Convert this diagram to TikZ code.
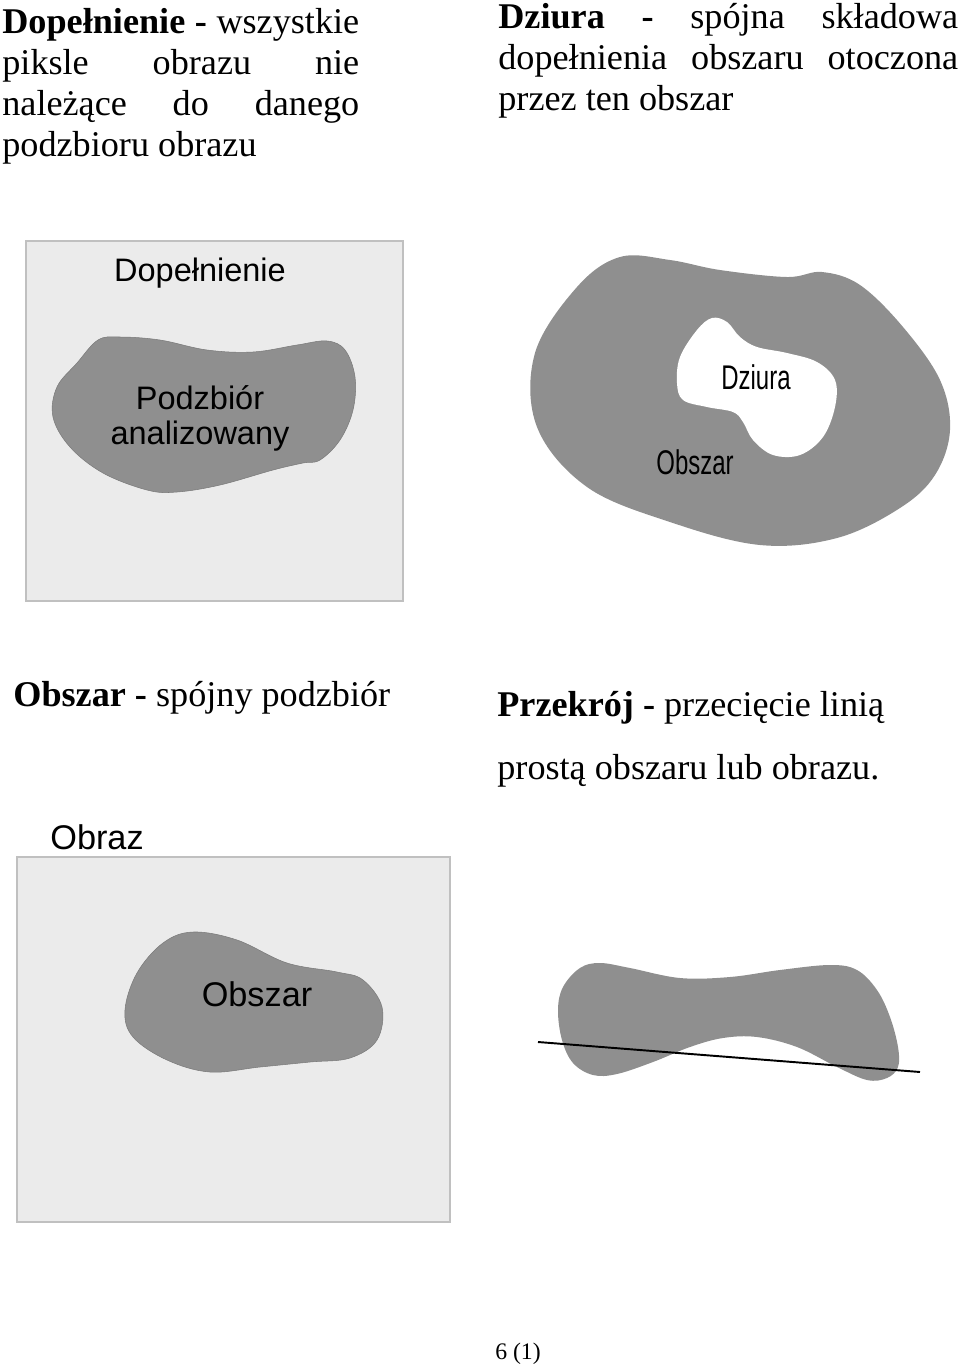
\documentclass[tikz,border=0pt]{standalone}
\usepackage{fontspec}
\usepackage{graphicx}
\setmainfont{Liberation Serif}
\newfontfamily\arial{Liberation Sans}
\definecolor{ciemny}{RGB}{143,143,143}
\definecolor{jasny}{RGB}{235,235,235}
\definecolor{ramka}{RGB}{192,192,192}
\tolerance=10000
\hbadness=10000

\begin{document}
\begin{tikzpicture}[
x=0.02cm, y=-0.02cm,
opis/.style={inner sep=0pt, font={\fontsize{20.6}{23.5}\selectfont}},
akapit/.style={opis, align=justify, anchor=base west},
etykieta/.style={inner sep=0pt, font={\arial\fontsize{18.5}{20}\selectfont}, align=center},
wasko/.style={etykieta, font={\arial\fontsize{19.5}{22}\selectfont}},
obrazbox/.style={draw=ramka, fill=jasny, line width=0.6pt},
obszar/.style={fill=ciemny, draw=ciemny!85!black, line width=0.3pt},
dziura/.style={fill=white}
]
\useasboundingbox (0,0) rectangle (960,1367);

\node[akapit, text width=7.14cm] (defDopelnienie) at (2,33)
  {\textbf{Dopełnienie -} wszystkie\linebreak piksle obrazu nie\linebreak należące do danego\linebreak podzbioru obrazu};
\node[akapit, text width=9.2cm] (defDziura) at (498,28)
  {\textbf{Dziura -} spójna składowa\linebreak dopełnienia obszaru otoczona\linebreak przez ten obszar};

\draw[obrazbox] (26,241) rectangle (403,601);
\filldraw[obszar] plot[smooth cycle, tension=0.6] coordinates {
  (98,340) (120,337) (160,340) (207,350) (253,352) (297,345) (327,341)
  (345,350) (355,377) (353,410) (340,440) (320,460) (303,463) (273,470)
  (220,485) (177,492) (147,490) (103,473) (70,447) (53,417) (57,387) (77,363)};
\node[etykieta] (lDopelnienie) at (200,273) {Dopełnienie};
\node[etykieta] (lPodzbior) at (200,418) {Podzbiór\\analizowany};

\fill[obszar, draw=none] plot[smooth cycle, tension=0.6] coordinates {
  (620,257) (670,260) (720,270) (787,277) (822,272) (860,285) (903,327)
  (940,380) (950,430) (935,475) (900,508) (837,538) (760,545) (670,522)
  (587,487) (537,427) (535,353) (577,287)};
\fill[dziura] plot[smooth cycle, tension=0.6] coordinates {
  (677,383) (680,357) (697,330) (712,318) (727,322) (740,337) (757,347)
  (787,353) (817,362) (835,380) (835,407) (823,437) (800,455) (773,455)
  (753,440) (743,422) (733,412) (707,407) (683,400)};
\node[wasko] (lDziura) at (756,377) {\scalebox{0.7}[1]{Dziura}};
\node[wasko] (lObszarPierscien) at (695,462) {\scalebox{0.7}[1]{Obszar}};

\node[opis, anchor=base west] (defObszar) at (13,706) {\textbf{Obszar -} spójny podzbiór};
\node[opis, anchor=base west] (defPrzekroj) at (497,716) {\textbf{Przekrój -} przecięcie linią};
\node[opis, anchor=base west] (prosta) at (497,779) {prostą obszaru lub obrazu.};

\node[wasko] (lObraz) at (97,837) {Obraz};
\draw[obrazbox] (17,857) rectangle (450,1222);
\filldraw[obszar] plot[smooth cycle, tension=0.6] coordinates {
  (193,932) (237,940) (287,963) (337,972) (363,980) (382,1007) (377,1040)
  (350,1058) (310,1062) (260,1067) (210,1072) (167,1060) (133,1037)
  (125,1010) (137,973) (163,943)};
\node[wasko] (lObszar) at (257,994) {Obszar};

\fill[obszar, draw=none] plot[smooth cycle, tension=0.6] coordinates {
  (600,963) (630,968) (680,978) (730,977) (780,970) (830,965) (857,970)
  (877,990) (890,1017) (898,1047) (898,1067) (887,1078) (867,1080)
  (837,1067) (797,1047) (757,1037) (723,1038) (690,1047) (653,1062)
  (617,1074) (593,1075) (573,1063) (562,1040) (558,1010) (563,987) (580,968)};
\coordinate (ciecieA) at (538,1042);
\coordinate (ciecieB) at (920,1072);
\draw[line width=1.1pt] (ciecieA) -- (ciecieB);

\node[inner sep=0pt, font={\fontsize{13.5}{16}\selectfont}, anchor=base] (strona) at (518,1359) {6 (1)};
\end{tikzpicture}
\end{document}
